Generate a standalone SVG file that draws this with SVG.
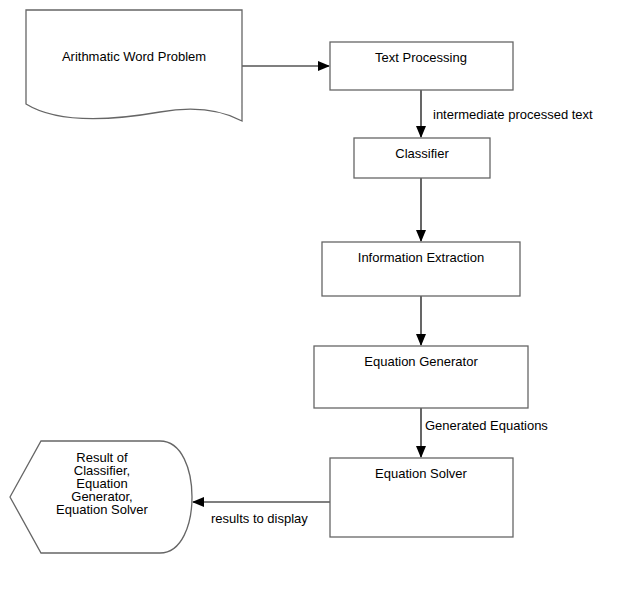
<svg xmlns="http://www.w3.org/2000/svg" width="634" height="593" viewBox="0 0 634 593">
<style>
.n{fill:#fff;stroke:#666;stroke-width:1.3}
.t{font-family:"Liberation Sans",Arial,sans-serif;font-size:13px;fill:#000;text-anchor:middle}
.l{font-family:"Liberation Sans",Arial,sans-serif;font-size:13px;fill:#000}
.c{stroke:#000;stroke-width:1.2;fill:none}
</style>
<defs>
<marker id="a" markerWidth="12" markerHeight="10" refX="11" refY="5" orient="auto" markerUnits="userSpaceOnUse">
<path d="M0,0 L12,5 L0,10 Z" fill="#000"/>
</marker>
</defs>
<rect width="634" height="593" fill="#fff"/>
<g id="connectors">
<path class="c" d="M242,66 H329" marker-end="url(#a)"/>
<path class="c" d="M421,90 V137" marker-end="url(#a)"/>
<path class="c" d="M421,178 V241" marker-end="url(#a)"/>
<path class="c" d="M421,296 V345" marker-end="url(#a)"/>
<path class="c" d="M421,408 V457" marker-end="url(#a)"/>
<path class="c" d="M330,502 H193" marker-end="url(#a)"/>
<text class="l" x="433" y="119">intermediate processed text</text>
<text class="l" x="425" y="430">Generated Equations</text>
<text class="l" x="211" y="523">results to display</text>
</g>
<g id="n1">
<path class="n" d="M26,10 H242 V121 C225,112 200,105 160,112 C120,119 60,125 26,104 Z"/>
<text class="t" x="134" y="61">Arithmatic Word Problem</text>
</g>
<g id="n2">
<rect class="n" x="330" y="42" width="183" height="48"/>
<text class="t" x="421" y="62">Text Processing</text>
</g>
<g id="n3">
<rect class="n" x="354" y="138" width="136" height="40"/>
<text class="t" x="422" y="158">Classifier</text>
</g>
<g id="n4">
<rect class="n" x="322" y="242" width="198" height="54"/>
<text class="t" x="421" y="262">Information Extraction</text>
</g>
<g id="n5">
<rect class="n" x="314" y="346" width="214" height="62"/>
<text class="t" x="421" y="366">Equation Generator</text>
</g>
<g id="n6">
<rect class="n" x="330" y="458" width="183" height="79"/>
<text class="t" x="421" y="478">Equation Solver</text>
</g>
<g id="n7">
<path class="n" d="M10,497 L41,441 H160 C182,441 192,470 192,497 C192,524 182,553 160,553 H41 Z"/>
<text class="t" x="102" y="462">Result of</text>
<text class="t" x="102" y="475">Classifier,</text>
<text class="t" x="102" y="488">Equation</text>
<text class="t" x="102" y="501">Generator,</text>
<text class="t" x="102" y="514">Equation Solver</text>
</g>
</svg>
